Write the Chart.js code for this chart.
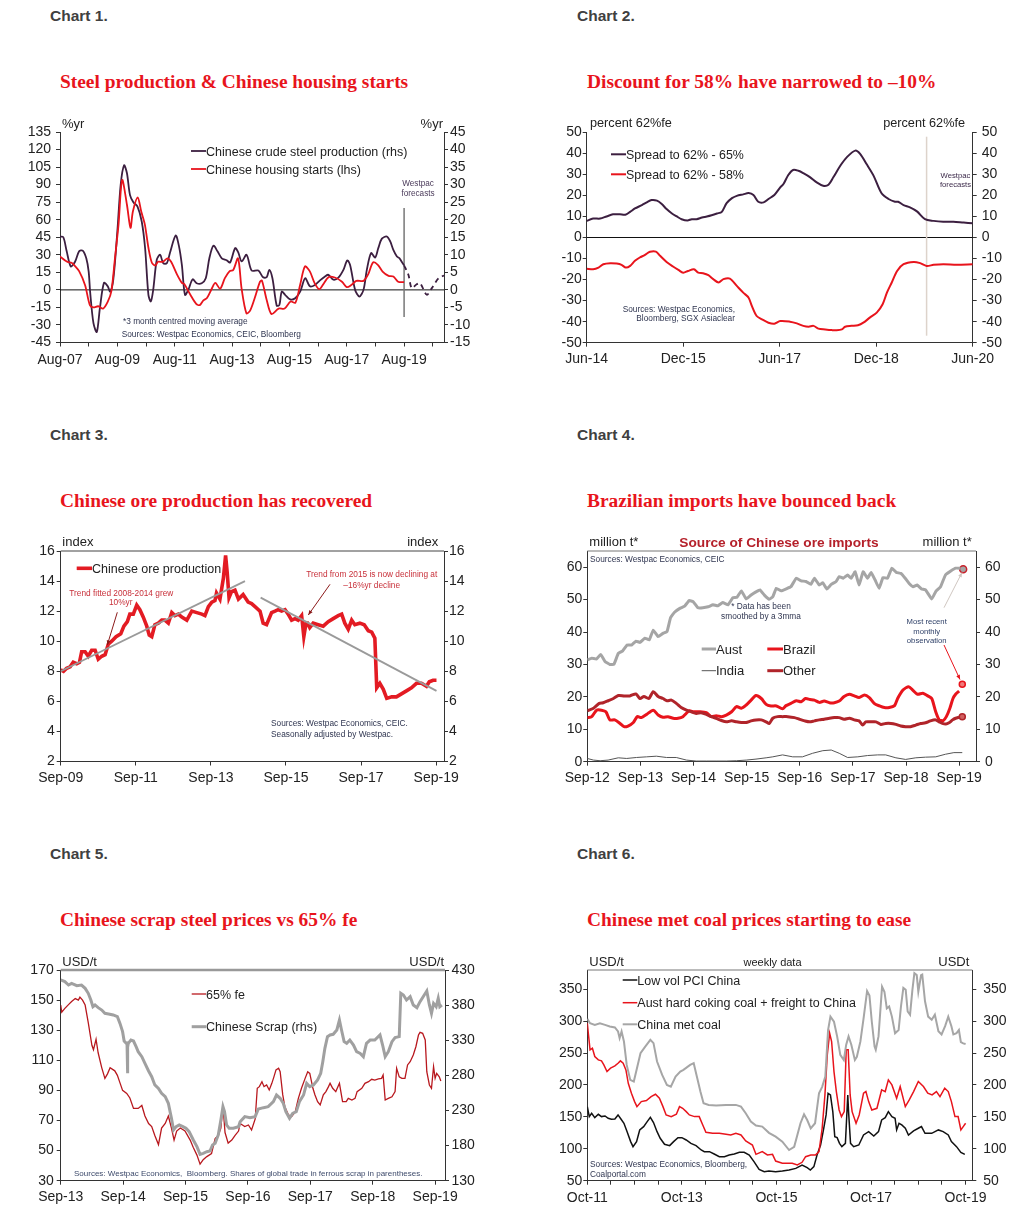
<!DOCTYPE html>
<html>
<head>
<meta charset="utf-8">
<script src="https://cdn.jsdelivr.net/npm/chart.js@4.4.1/dist/chart.umd.min.js"></script>
<style>
  body { margin: 0; background: #fff; width: 1032px; height: 1210px; position: relative; overflow: hidden; font-family: "Liberation Sans", Arial, sans-serif; }
  .hd { position: absolute; font-weight: bold; font-size: 15.5px; line-height: 1; color: #404040; white-space: nowrap; }
  .tt { position: absolute; font-family: "Liberation Serif", "Times New Roman", serif; font-weight: bold; font-size: 19.4px; line-height: 1; color: #e8141c; white-space: nowrap; }
</style>
</head>
<body>
<div class="hd" style="left:50px;top:8px">Chart 1.</div>
<div class="hd" style="left:577px;top:8px">Chart 2.</div>
<div class="hd" style="left:50px;top:427px">Chart 3.</div>
<div class="hd" style="left:577px;top:427px">Chart 4.</div>
<div class="hd" style="left:50px;top:846px">Chart 5.</div>
<div class="hd" style="left:577px;top:846px">Chart 6.</div>
<div class="tt" style="left:60px;top:72px">Steel production &amp; Chinese housing starts</div>
<div class="tt" style="left:587px;top:72px">Discount for 58% have narrowed to –10%</div>
<div class="tt" style="left:60px;top:491px">Chinese ore production has recovered</div>
<div class="tt" style="left:587px;top:491px">Brazilian imports have bounced back</div>
<div class="tt" style="left:60px;top:910px">Chinese scrap steel prices vs 65% fe</div>
<div class="tt" style="left:587px;top:910px">Chinese met coal prices starting to ease</div>

<script>
// ---- data: [months since first x label, value] ----

// Chart 1 (months from Aug-07)
const c1XTicks = [0, 12, 24, 36, 48, 60, 72, 84, 96, 108, 120, 132, 144, 156];
const c1XLabels = ['Aug-07', '', 'Aug-09', '', 'Aug-11', '', 'Aug-13', '', 'Aug-15', '', 'Aug-17', '', 'Aug-19', ''];
const c1LeftTicks = [135, 120, 105, 90, 75, 60, 45, 30, 15, 0, -15, -30, -45];
const c1RightTicks = [45, 40, 35, 30, 25, 20, 15, 10, 5, 0, -5, -10, -15];
const c1Housing = [[0,28.6],[3,24],[5,23],[6,21],[8,16],[10.5,4],[12.5,-13],[14,-15],[16,-14],[18,-16],[20,-10],[21.5,-1],[23,27],[24.5,56],[26,94],[28,73],[29.5,53],[30.5,67],[32.5,79],[34,67],[35.5,56],[37,36],[38.5,23],[40,21],[41,24],[43,24],[45,27],[46.5,24],[49,13],[51,6],[52,5],[54.5,-4],[57,-12],[58.5,-13],[60,-9],[61.5,-7],[63.5,1],[65,6],[67,1],[69,10],[71,16],[72.5,17],[74.5,27],[76,1],[78,-20],[79.5,-18],[81.5,-7],[83.7,7],[84.5,8],[86.5,-8.6],[88.5,-20.6],[91.5,-16],[94,-16],[96.5,-10],[98.5,-11],[100.5,4.3],[102.5,20],[104.5,16],[106.5,6],[108.5,0.6],[110,4.3],[112.5,11],[115,10.6],[118,7],[120,2.3],[122,4.3],[124,7.7],[127,7.7],[129,13.4],[131,23.4],[133,21.4],[135,15.7],[137.5,12],[139.5,11.4],[141.5,7],[144,6.6]];
const c1Steel = [[0,15.2],[1.4,15],[2.8,11],[4.5,6.7],[6.3,8],[8,11],[9.5,11.2],[11,9],[12,5.2],[12.6,-0.5],[14,-9.5],[15.4,-12],[16.7,-5.2],[18.4,2],[20,1],[21,-0.5],[22.3,2.9],[24,16.7],[25.4,30],[26.8,35.5],[28,33.3],[29.3,27],[30.7,25],[32.4,23.8],[34.2,19.5],[35.6,12],[37,-1.4],[38,-3.3],[39,0],[40.5,8.6],[41.9,10],[43.2,7.6],[44.7,7.6],[46,10.5],[48.4,15.5],[49.8,12.4],[51,7.1],[52.3,-1.4],[53.7,0],[55.5,3],[57.2,1.9],[59.3,1.9],[61,3.3],[62.5,9],[64.2,12.6],[65.9,11],[67.7,9],[69.8,8.4],[71.2,7.8],[73.3,11.9],[74.6,10.7],[76,8.1],[78.1,10],[80.2,5.5],[83,5.5],[85,3.6],[86.5,3.6],[87.6,5.7],[88.9,3.3],[90.7,-4.5],[91.8,-4.3],[92.8,-0.5],[94.2,-1.4],[96.3,-2.7],[98.4,-2.4],[100.5,-0.5],[102.6,3.3],[104.6,1],[106.7,1.4],[108.8,2.7],[110.9,3.8],[112.3,4.3],[114.4,2.9],[116.5,3.5],[118.6,5.7],[120.2,8.4],[121.4,7.1],[123.5,0],[125.3,-1.9],[127,0],[128.4,5.7],[130.2,10.5],[131.9,9.2],[133.2,11.9],[134.7,14.6],[136.8,15.2],[138.2,13.8],[139.5,11.4],[141,9.5],[142.1,9],[143,8],[144,7]];
const c1SteelForecast = [[144,7],[145.8,4.3],[147.2,0.5],[149.3,1.6],[150.7,1.9],[153.5,-1.4],[155.6,0.5],[158.4,3.3],[160.7,4.1]];
const c1ForecastStart = 144;

// Chart 2 (months from Jun-14)
const c2XTicks = [0, 18, 36, 54, 72];
const c2XLabels = ['Jun-14', 'Dec-15', 'Jun-17', 'Dec-18', 'Jun-20'];
const c2YTicks = [50, 40, 30, 20, 10, 0, -10, -20, -30, -40, -50];
const c2Spread65 = [[0,7.9],[1.2,9],[2.5,9],[3.7,10],[4.9,11],[6.2,11],[7.2,10.8],[8.1,12.2],[9,13.8],[10.3,15.4],[11.2,16.7],[12.1,17.8],[13.1,17.5],[14,15.9],[14.9,13.5],[15.9,11.4],[16.8,10],[17.7,8.7],[18.8,8.1],[19.6,8.7],[20.5,8.7],[21.5,9.5],[22.4,10],[23.3,10.6],[24.3,11.4],[25.2,12.2],[26.1,16.3],[27.1,18.7],[28,19.8],[29.2,20.5],[30.2,21.1],[31.1,20.2],[32,17],[33,16.7],[33.9,18.3],[35,20.2],[36.1,23.8],[36.7,25.4],[37.6,29.7],[38.5,32.1],[39.5,31.7],[40.4,30.6],[41.7,28.6],[42.9,26.2],[44.1,24.6],[45.1,25.1],[46,28.6],[47.3,34.1],[48.5,38.1],[50.1,41.3],[51,39.7],[52.2,34.9],[53.5,29.4],[55,21],[56.3,18.3],[57.5,17],[58.1,17],[59.1,15.4],[60.3,14.3],[61.6,12.4],[63.1,8.7],[64.7,7.9],[66.5,7.5],[68.4,7.5],[70.3,7.1],[72,6.8]];
const c2Spread58 = [[0,-14.8],[1.2,-15.1],[2.2,-14.3],[3.1,-12.7],[4.4,-12.2],[5.6,-12.4],[6.5,-13],[7.3,-14.3],[8.1,-13.5],[9,-11.1],[9.9,-9.5],[10.8,-8.4],[11.8,-6.8],[12.9,-6.7],[13.7,-8.7],[14.9,-11.6],[16.1,-13.8],[17.1,-15.4],[18,-16.7],[18.9,-15.9],[20,-15.1],[20.8,-16.7],[21.7,-17],[22.7,-17.9],[23.6,-19.8],[24.6,-21.4],[25.5,-19.8],[26.7,-19.5],[28,-23],[29.2,-26.2],[30.2,-28.6],[30.8,-32.5],[31.7,-37.3],[32.7,-38.9],[33.9,-40.5],[35,-41],[36.1,-39.7],[37.9,-40],[39.2,-40.8],[40.4,-42],[41.4,-42.4],[42.3,-42],[43.2,-43.3],[44.5,-43.7],[45.7,-44],[46.6,-44.1],[47.6,-43.7],[48.2,-42.4],[49.4,-42],[50.6,-41.7],[51.6,-40.5],[52.8,-38.1],[54.1,-35.7],[55.2,-31.7],[56,-26.2],[56.9,-21.4],[57.9,-15.9],[59.1,-12.7],[61,-11.6],[62.2,-12.2],[63.4,-13.5],[64.7,-13],[66.5,-12.7],[69,-12.9],[72,-12.7]];
const c2ForecastStart = 63.4;

// Chart 3 (months from Sep-09)
const c3XTicks = [0, 24, 48, 72, 96, 120];
const c3XLabels = ['Sep-09', 'Sep-11', 'Sep-13', 'Sep-15', 'Sep-17', 'Sep-19'];
const c3YTicks = [16, 14, 12, 10, 8, 6, 4, 2];
const c3Ore = [[0,8.1],[0.9,8],[1.9,8.2],[3,8.3],[4,8.6],[5.1,8.5],[6,8.6],[6.7,9.3],[7.8,9.3],[8.8,9],[9.9,9.4],[11,9.4],[12,8.8],[13.1,9],[14.2,9.1],[15.2,9.8],[16.3,10],[17.7,10.3],[19.2,10.5],[20.2,11],[21.3,11.3],[22.1,11.8],[23.2,11.8],[24.3,12.4],[25.3,12.1],[26.4,11.6],[27.5,11],[28.3,10.4],[29.1,10.3],[30.1,11.1],[31.2,11.2],[32.3,11.4],[33.3,11.4],[34.4,11.2],[35.5,11.9],[36.5,11.7],[37.6,11.8],[38.7,11.6],[40.3,11.4],[41.9,12],[43.5,11.9],[45.1,11.8],[46.1,11.7],[47.2,12.3],[48.3,12.6],[49.3,12.7],[49.8,13.2],[50.9,12.8],[52,14.2],[52.7,15.7],[53.2,14.6],[53.8,12.9],[54.6,13.3],[55.7,13.4],[56.8,12.8],[58.3,13.1],[59.9,12.6],[61,12.5],[62.1,12.3],[63.7,12],[64.7,11.2],[65.8,11.1],[67.4,11.9],[68.5,12],[69.5,12.1],[70.6,12],[71.7,12.1],[72.7,11.8],[73.8,11.4],[74.9,11.5],[75.9,11.4],[77,11.7],[77.7,10.3],[78.4,11.2],[78.9,11.2],[79.6,10.9],[80.7,11.2],[82.3,11.1],[83.9,11],[85.5,11.3],[87.1,11.5],[88.7,11.7],[89.8,11.8],[90.8,11.2],[91.9,10.8],[93,11.4],[94,11.1],[95.6,11.2],[97,11.1],[98.3,10.7],[99.4,10.6],[100.4,10.2],[101,6.9],[102,7.2],[103.1,6.8],[104.2,6.2],[105.8,6.3],[107.3,6.3],[108.9,6.5],[110.5,6.7],[112.1,6.9],[113.7,7.2],[115.3,7.2],[116.9,7],[117.8,7.3],[119,7.4],[120.1,7.4]];
const c3TrendUp = [[0,8.0],[58.9,14.0]];
const c3TrendDown = [[63.9,12.9],[120.1,6.7]];

// Chart 4 (months from Sep-12)
const c4XTicks = [0, 12, 24, 36, 48, 60, 72, 84];
const c4XLabels = ['Sep-12', 'Sep-13', 'Sep-14', 'Sep-15', 'Sep-16', 'Sep-17', 'Sep-18', 'Sep-19'];
const c4YTicks = [60, 50, 40, 30, 20, 10, 0];
const c4Aust = [[0,31.4],[1,31.9],[2.1,31.7],[3,33.1],[4,30.9],[5.1,30],[6,30],[7,33.4],[8,34.2],[9,36],[10,36],[11,37.2],[11.9,36.8],[13,38.1],[14,37.6],[14.9,40.6],[16,38.6],[17.1,39.6],[18,40.1],[18.8,44.4],[19.7,46.1],[20.9,47.3],[22,48],[23,49.7],[23.9,49.4],[25,47.5],[26.1,47.5],[27.3,47.8],[28.4,48.4],[29.5,48.1],[30.6,49.1],[31.8,48.4],[32.9,50.6],[33.8,50.7],[34.8,52.7],[35.9,50.2],[37,51.4],[38,52.3],[39,53],[40,51.4],[41.1,50.1],[41.9,50.9],[42.7,53.5],[43.8,52.7],[44.9,53.3],[46,54],[47.2,56.6],[48.3,55.8],[49.4,55.6],[50.5,54.7],[51.3,56.6],[52.4,54.5],[53.2,55.2],[54.1,53.3],[55.1,54.7],[56.2,55.6],[56.9,57.1],[57.8,56.6],[58.8,57.6],[59.6,56.6],[60.5,58.6],[61.4,54.5],[62.3,58.6],[63.3,56.6],[64.1,58.4],[65,56.1],[65.9,53.5],[66.8,56.8],[67.8,56.6],[68.8,59.7],[69.8,58.4],[70.8,58.1],[71.8,56.6],[72.7,55],[73.6,54],[74.5,54.5],[75.5,53.3],[76.4,53],[77.8,50.2],[78.7,52.5],[79.8,54],[80.9,57.6],[82.1,58.8],[83.2,59.7],[84.3,59.7]];
const c4Brazil = [[0,13.6],[1,13.9],[2.1,15.9],[3.2,15.9],[4.2,15.4],[5.1,12.9],[6.2,12.9],[7.4,11.8],[8.3,10.8],[9.2,11],[10.4,12.1],[11.3,13.9],[12.2,13.6],[13.4,14.6],[14.9,15.9],[16,14.4],[17.1,13.7],[18.2,13.9],[19.4,13.4],[20.5,13.4],[21.6,13.9],[23,15.7],[24,15.4],[25.4,15.4],[26.9,15.1],[28,13.9],[29.1,14.2],[30.3,13.9],[31.4,14.4],[32.6,15.4],[33.7,17],[34.8,16.5],[35.9,17.5],[37,19],[38.1,20.4],[39.3,19.5],[40.4,17.7],[41.5,17.2],[42.7,17.2],[44.1,16.3],[44.9,17.3],[46,18],[47.2,18.8],[48.3,18.5],[49.3,19.5],[50.3,19.2],[51.3,19],[52.4,18.3],[53.5,18.7],[54.7,18.2],[55.8,18.2],[56.9,18.7],[58,20.1],[59.2,20.8],[60.3,20.3],[61.4,19.8],[62.6,20.6],[63.7,19.8],[64.8,18],[66,17.2],[67.1,16.7],[68.2,16.7],[69.4,17.3],[70.1,19.5],[71.3,22.1],[72.6,23.1],[73.5,22.1],[74.6,20.8],[75.8,21.1],[76.9,20.3],[77.8,19.5],[78.7,15.4],[79.5,12.9],[80.4,12.7],[81.1,13.9],[81.9,16.5],[82.6,19.5],[83.2,20.8],[84,21.8]];
const c4Other = [[0,15.7],[1.4,16.5],[2.7,18],[3.6,18.2],[4.7,18.8],[5.9,19.5],[7,20.4],[8.3,20.3],[9.6,20.3],[11,20.9],[11.9,19.5],[12.8,20.1],[13.9,19.5],[14.9,21.6],[16,20.1],[17.1,19.5],[18,18.8],[19,19],[20.1,18],[21.2,16.7],[22.4,15.9],[23.5,15.4],[24.6,14.9],[25.7,15.1],[26.9,14.6],[28,13.9],[29.1,13.4],[30.3,12.7],[31.4,12.3],[32.6,12.6],[33.7,12.3],[34.8,12.1],[35.9,12.1],[37,12.6],[38.1,12.9],[39.3,12.9],[40.4,12.3],[41.1,11.8],[41.9,13.4],[43,13.9],[44.1,13.9],[45.3,13.9],[46.8,13.6],[47.9,13.1],[49.1,12.6],[50.2,12.3],[51.3,12.6],[52.4,12.9],[53.5,13.1],[54.7,13.4],[55.8,13.6],[56.9,13.6],[58,13.1],[59.2,13.4],[60.3,12.9],[61.4,12.6],[62.2,11.3],[62.9,12.3],[64.1,12.3],[65.2,12.3],[66.3,11.5],[67.4,11.8],[68.6,11.8],[69.7,11.5],[70.8,11],[71.9,10.8],[73,10.8],[74.2,11.3],[75.3,11.8],[76.4,12],[77.5,12.6],[78.7,12.9],[79.5,12.3],[80.2,11.8],[81,11.6],[81.7,12],[82.5,12.9],[83.2,13.4],[84,13.7]];
const c4India = [[0,1],[1.4,0.5],[2.9,0.3],[4.7,0.5],[7,1.2],[8.9,1],[11.1,1.3],[13.4,1.5],[15.6,1.7],[17.9,1.3],[20.1,1.3],[22.4,0.5],[24.6,0.2],[26.9,0.2],[29.1,0.2],[31.4,0.2],[33.7,0.3],[35.9,0.5],[38.1,0.8],[40.4,1.2],[41.9,1.5],[44.1,2.1],[46.4,1.5],[48.6,1.5],[50.9,2.6],[53.2,3.4],[55.1,3.6],[56.9,2.6],[58.8,1.3],[61.1,1.5],[63.3,1.9],[65.6,2.1],[67.4,2.1],[69.7,1.2],[71.9,0.7],[74.2,1.2],[76.4,1.4],[78.7,1.5],[80.9,2.3],[82.8,2.8],[84.7,2.8]];
const c4LatestAust = [[84.9,59.4]];
const c4LatestBrazil = [[84.7,23.9]];
const c4LatestOther = [[84.7,13.9]];

// Chart 5 (months from Sep-13)
const c5XTicks = [0, 12, 24, 36, 48, 60, 72];
const c5XLabels = ['Sep-13', 'Sep-14', 'Sep-15', 'Sep-16', 'Sep-17', 'Sep-18', 'Sep-19'];
const c5LeftTicks = [170, 150, 130, 110, 90, 70, 50, 30];
const c5RightTicks = [430, 380, 330, 280, 230, 180, 130];
const c5Fe65 = [[0,146.7],[0.2,142],[0.8,144.5],[1.5,147],[2.1,149],[2.8,151],[3.4,150],[3.7,152],[4.2,150],[4.7,146.7],[5.3,135],[6,120],[6.3,117],[6.8,124],[7.2,115],[7.9,105],[8.5,98],[9,101],[9.5,105],[10.4,103],[10.9,100],[11.4,95],[11.9,90],[12.7,88],[13.3,85],[14,78],[14.9,78],[15.6,80],[16.2,73],[16.9,68],[17.5,66],[18.1,60],[18.8,54],[19.4,65],[20.1,68],[20.7,73],[21.3,65],[21.8,57],[22.3,63],[23,65],[23.9,63],[24.9,57],[25.5,52],[26.2,47],[26.8,41],[27.4,44],[28.1,46],[29,48],[29.7,58],[30.3,60],[30.8,65],[31.2,80],[31.6,62],[32.2,55],[32.9,57],[33.5,60],[34.2,63],[34.5,68],[35.4,66],[36.1,67],[36.7,63.7],[37.4,71],[37.8,91.4],[38.2,92.5],[38.7,95.8],[39.1,92.5],[39.6,93.6],[40.1,90.3],[40.6,94.7],[41,99],[41.4,103.6],[41.9,104.7],[42.2,102.4],[42.7,87],[43.1,79.2],[43.8,73.7],[44.4,72.5],[45.1,75.9],[45.7,84.7],[46.3,91.4],[47,98],[47.5,102.4],[47.9,101.3],[48.5,91.4],[48.9,87],[49.4,82.5],[49.9,80.3],[50.5,87],[51,89.2],[51.5,92.5],[51.8,94.7],[52.3,91.4],[52.9,89.2],[53.6,94.7],[54.2,82.5],[54.9,82.5],[55.3,84.7],[56,83.6],[56.6,84.7],[57,89.2],[57.9,91.4],[58.5,94.7],[59.2,95.8],[59.8,97.4],[60.4,96.9],[61.1,97.6],[61.7,98],[62,100.2],[62.4,83.6],[63,84.7],[63.7,85.8],[64.3,89.2],[64.6,104.7],[65.1,99],[65.6,98],[66.2,98],[66.7,106.9],[67.2,109.1],[67.8,113.5],[68.3,119],[68.8,126.8],[69.1,128.6],[69.6,127.9],[70.1,123.5],[70.4,102.4],[70.9,93.6],[71.3,91.4],[71.7,105.8],[72,98],[72.3,101.3],[72.8,99],[73.1,96.2]];
const c5Scrap = [[0,415.8],[0.8,413.4],[1.5,408.6],[2.1,411],[3.1,407.7],[4,408.6],[4.7,403.9],[5.3,396.8],[5.8,387.3],[6.2,377.8],[6.6,380.2],[7.2,376.4],[7.9,373],[8.5,368.3],[9.2,367.4],[10.1,366],[10.9,363.6],[11.4,354],[11.9,342.2],[12.2,328.9],[12.6,325.6],[12.75,326],[12.82,283],[12.92,320],[13,325.6],[13.5,330.3],[14,328.9],[14.5,320.8],[14.9,313.7],[15.6,306.6],[16.2,297.1],[16.9,286.2],[17.5,278.1],[18.1,266.3],[18.8,261.5],[19.4,254.4],[20.1,249.7],[20.7,240.2],[21.3,218.8],[21.7,202.2],[22.2,206.9],[22.8,209.3],[23.5,206.9],[24.1,204.6],[24.7,199.8],[25.5,187.9],[26.2,178.5],[26.8,167.5],[27.4,169],[28.1,171.3],[28.7,172.3],[29.2,180.8],[29.7,183.2],[30.3,195.1],[30.8,216.4],[31.2,235.4],[31.5,228.3],[31.9,209.3],[32.4,204.6],[33.2,204.6],[34.2,206.9],[34.5,214],[35.4,221.2],[36.4,219.7],[37.4,221.2],[38,232.1],[39,234],[39.9,235.4],[40.9,242.5],[41.5,252],[42.2,247.3],[42.8,240.2],[43.3,228.3],[44,218.8],[44.6,225.9],[45.3,228.3],[45.9,242.5],[46.7,252],[47.3,268.6],[47.9,263.9],[48.6,266.3],[49.4,273.4],[50,282.9],[50.4,299.5],[50.8,318.5],[51.3,335.1],[51.8,337.5],[52.4,338.4],[53.1,344.6],[53.6,358.8],[54,344.6],[54.5,328],[55,325.6],[55.6,330.3],[56.3,323.2],[56.9,313.7],[57.6,311.3],[58.2,306.6],[58.8,325.6],[59.5,330.3],[60.4,330.3],[61.4,337.5],[61.9,323.2],[62.4,306.6],[63,313.7],[63.7,328],[64.3,333.7],[65.1,335.1],[65.4,396.8],[65.9,394.4],[66.5,387.3],[67.2,392],[67.8,380.2],[68.5,376.4],[69.1,384.9],[69.7,392],[70.4,400.1],[70.9,380.2],[71.3,368.3],[71.7,382.5],[72.2,377.8],[72.6,389.7],[72.9,377.8],[73.3,380.2]];

// Chart 6 (months from Oct-11, weekly data)
const c6XTicks = [0, 6, 12, 18, 24, 30, 36, 42, 48, 54, 60, 66, 72, 78, 84, 90, 96];
const c6XLabels = ['Oct-11', '', '', '', 'Oct-13', '', '', '', 'Oct-15', '', '', '', 'Oct-17', '', '', '', 'Oct-19'];
const c6YTicks = [350, 300, 250, 200, 150, 100, 50];
const c6PCI = [[0,166],[0.5,150.4],[1.1,155.6],[1.9,148.8],[2.8,154],[3.6,150.4],[4.5,151.4],[5.3,147.8],[6.1,146.2],[7,146.7],[7.8,153],[8.4,147.8],[9.3,139.9],[10.1,126.8],[11,111.2],[11.6,103.3],[12.5,111.2],[13.3,129.5],[14.3,134.7],[15.2,142.5],[16,149.3],[16.8,141],[17.7,126.8],[18.5,116.4],[19.6,107],[20.9,104.9],[21.9,111.2],[23,117.4],[24,117.4],[25.1,113.8],[26.3,108.5],[27.6,104.9],[28.9,98.1],[29.7,95.5],[31,95.5],[32.2,91.8],[33.5,87.6],[34.8,87.6],[36,90.3],[37.3,91.8],[38.6,94.4],[39.8,94.4],[41.1,90.3],[42.3,79.8],[43.6,67.8],[44.9,64.1],[46.1,65.2],[47.8,64.1],[49.5,65.2],[51.2,66.7],[52.9,69.3],[54.5,74.6],[55.8,70.4],[56.6,66.7],[57.5,72],[58.3,90.3],[59.2,106],[60,132.1],[60.6,153],[61.1,186.9],[61.7,184.3],[62.3,158.2],[62.8,119],[63.4,117.4],[64,108.5],[64.6,103.3],[65.5,108.5],[66.1,184.3],[66.3,158.2],[66.8,108.5],[67.6,103.3],[68.9,105.9],[70.1,121.6],[71.4,126.8],[72.7,120],[73.9,126.8],[74.7,145.1],[75.6,148.8],[76.4,158.2],[77.3,150.4],[78.1,147.8],[78.5,129.5],[79.1,139.9],[79.8,137.3],[80.7,132.1],[81.5,121.6],[82.8,127.9],[84,132.1],[84.8,134.7],[85.7,124.2],[87.4,124.2],[89.1,129.5],[90.3,126.8],[91.6,121.6],[92.4,111.2],[93.7,103.3],[94.8,94.4],[95.8,91.3]];
const c6HCC = [[0,296.7],[0.3,278.4],[0.7,254.9],[1.3,257.5],[1.9,244.5],[2.8,239.2],[3.6,237.7],[4.2,231.4],[5,220.9],[5.9,226.2],[7,229.8],[7.8,234],[8.4,237.7],[9.1,234],[9.8,223.6],[10.4,202.6],[11.2,187],[12,173.9],[12.6,166],[13.7,173.9],[15,175.5],[16.2,181.7],[17.3,185.4],[18.3,179.1],[19.2,166],[20,153],[21.3,150.4],[22.6,154],[23.4,166],[24.2,163.4],[25.1,158.2],[25.9,153],[27.2,150.4],[28.4,150.4],[29.3,137.3],[30.1,125.8],[31.8,124.2],[33.5,124.2],[35.2,122.7],[36.4,121.6],[37.7,124.2],[39,121.6],[40.2,112.2],[41.9,105.9],[42.8,91.3],[44.4,95.5],[45.7,90.3],[47,91.3],[47.8,80.8],[49.5,77.2],[52,77.2],[53.3,74.6],[54.5,78.8],[55.4,87.6],[56.7,90.3],[57.9,90.3],[58.8,95.5],[59.6,132.1],[60.3,184.3],[60.9,247],[61.5,281],[62,268],[62.6,220.9],[63.2,189.6],[63.9,160.8],[64.5,150.4],[65.2,158.2],[65.7,254.9],[66.2,254.9],[66.7,184.3],[67.2,158.2],[68.2,139.9],[69,153],[70.1,187],[70.7,189.6],[71.4,173.9],[72.2,160.8],[73.5,163.4],[74.7,192.2],[75.6,189.6],[76.4,207.9],[77.3,200],[78.5,179.1],[79.4,197.4],[80.7,166],[81.7,176.5],[82.8,189.6],[84,205.3],[85.3,197.4],[86.4,187],[87.5,184.3],[88.6,189.6],[89.5,181.7],[90.7,194.8],[91.6,189.6],[92.4,173.9],[93.3,150.4],[94.1,150.4],[94.8,129.5],[95.4,134.7],[96,139.9]];
const c6MetCoal = [[0,303.5],[0.7,296.7],[1.9,294.1],[3.2,296.7],[4.5,294.1],[5.7,291.5],[7,290],[7.8,283.7],[8.2,273.2],[8.7,283.7],[9.3,268],[10,231.4],[10.9,207.9],[11.8,205.3],[12.6,226.2],[13.5,249.7],[14.7,260.1],[16,270.6],[16.8,265.4],[17.7,236.6],[19,215.7],[20.2,200],[21.2,197.4],[22.4,213.1],[23.6,220.9],[24.4,223.6],[26.1,231.4],[27,234],[27.8,213.1],[28.7,189.6],[29.5,171.3],[30.8,168.7],[32.7,167.6],[35.2,168.7],[37.7,168.7],[39,166],[40.2,155.6],[41.5,142.5],[42.8,136.3],[44.4,134.7],[46.1,125],[47.8,119],[49.5,111.2],[51.2,98],[52.5,103],[54.1,140],[55,154],[55.8,145],[56.7,132],[57.8,140],[58.8,187],[59.6,197],[60.4,213],[61.1,286],[61.7,307],[62.6,299],[63.4,276],[64.2,247],[65.1,239],[65.7,263],[66.3,276],[67,263],[67.9,239],[68.4,244],[69.3,268],[70.1,304],[71,347],[71.6,340],[72.2,299],[72.9,260],[73.2,255],[73.9,276],[74.8,354],[75.4,346],[76,320],[76.6,323],[77.3,307],[78.1,281],[79,286],[79.6,323],[80.2,352],[80.8,349],[81.3,315],[81.9,310],[82.5,349],[83,375],[83.6,372],[84,346],[84.7,372],[85,373],[85.7,331],[86.5,307],[87.4,302],[88.2,310],[89.1,284],[89.9,279],[90.8,292],[91.6,307],[92.4,292],[92.9,279],[93.7,281],[94.3,286],[94.8,267],[95.4,265],[96,264]];

// ---- drawing ----
const FONT = "'Liberation Sans', Arial, sans-serif";
Chart.defaults.font.family = FONT;
Chart.defaults.color = '#222';

const xy = arr => arr.map(p => ({ x: p[0], y: p[1] }));

function series(arr, color, width, axis, extra) {
  return Object.assign({
    data: xy(arr), borderColor: color, backgroundColor: color, borderWidth: width,
    pointRadius: 0, tension: 0, fill: false, yAxisID: axis || 'y'
  }, extra || {});
}

// small texts, legends, arrows and reference lines, placed in page pixels
function noteLayer(box, items) {
  function draw(chart, under) {
    const ctx = chart.ctx, ca = chart.chartArea;
    ctx.save();
    for (const it of items) {
      if (!!it.under !== under) continue;
      if (it.k === 'zero') {
        const y = chart.scales.y.getPixelForValue(0);
        ctx.strokeStyle = '#111'; ctx.lineWidth = 1;
        ctx.beginPath(); ctx.moveTo(ca.left, y); ctx.lineTo(ca.right, y); ctx.stroke();
      } else if (it.k === 'top') {
        ctx.strokeStyle = it.c; ctx.lineWidth = it.w;
        ctx.beginPath(); ctx.moveTo(ca.left, ca.top); ctx.lineTo(ca.right, ca.top); ctx.stroke();
      } else if (it.k === 'v') {
        const x = chart.scales.x.getPixelForValue(it.v);
        ctx.strokeStyle = it.c; ctx.lineWidth = it.w;
        ctx.beginPath(); ctx.moveTo(x, it.y1 - box.t); ctx.lineTo(x, it.y2 - box.t); ctx.stroke();
      } else if (it.k === 'l') {
        const x1 = it.x1 - box.l, y1 = it.y1 - box.t, x2 = it.x2 - box.l, y2 = it.y2 - box.t;
        ctx.strokeStyle = it.c; ctx.lineWidth = it.w || 1;
        ctx.beginPath(); ctx.moveTo(x1, y1); ctx.lineTo(x2, y2); ctx.stroke();
        if (it.head) {
          const a = Math.atan2(y2 - y1, x2 - x1), s = 5;
          ctx.fillStyle = it.c;
          ctx.beginPath();
          ctx.moveTo(x2, y2);
          ctx.lineTo(x2 - s * Math.cos(a - 0.4), y2 - s * Math.sin(a - 0.4));
          ctx.lineTo(x2 - s * Math.cos(a + 0.4), y2 - s * Math.sin(a + 0.4));
          ctx.closePath(); ctx.fill();
        }
      } else if (it.k === 't') {
        ctx.font = (it.b ? 'bold ' : '') + it.f + 'px ' + FONT;
        ctx.fillStyle = it.c || '#222';
        ctx.textAlign = it.a || 'left';
        ctx.textBaseline = 'middle';
        ctx.fillText(it.s, it.x - box.l, it.y - box.t + 1.2);
      }
    }
    ctx.restore();
  }
  return {
    id: 'notes',
    beforeDatasetsDraw(chart) { draw(chart, true); },
    afterDatasetsDraw(chart) { draw(chart, false); }
  };
}

function axis(pos, min, max, vals, pad, fit, extraTicks) {
  return {
    type: 'linear', position: pos, min: min, max: max,
    grid: { display: true, drawOnChartArea: false, drawTicks: true, tickLength: 4, color: '#333', lineWidth: 1 },
    border: { display: true, color: '#333', width: 1 },
    afterBuildTicks: s => { s.ticks = vals.map(v => ({ value: v })); },
    afterFit: fit,
    ticks: Object.assign({ padding: pad, font: { size: 14 }, color: '#222', autoSkip: false, maxRotation: 0, callback: v => String(v) }, extraTicks || {})
  };
}

function build(box, plot, sc, datasets, notes) {
  const cv = document.createElement('canvas');
  cv.width = box.w; cv.height = box.h;
  cv.style.cssText = 'position:absolute;left:' + box.l + 'px;top:' + box.t + 'px;width:' + box.w + 'px;height:' + box.h + 'px';
  document.body.appendChild(cv);
  new Chart(cv, {
    type: 'line',
    data: { datasets: datasets },
    options: {
      responsive: false, animation: false,
      layout: { padding: { top: plot.t - box.t, left: 0, right: 0, bottom: 0 } },
      plugins: { legend: { display: false }, tooltip: { enabled: false } },
      scales: {
        x: axis('bottom', sc.x[0], sc.x[1], sc.xTicks, sc.xPad, s => { s.height = box.t + box.h - plot.b; },
                { callback: (v, i) => sc.xLabels[i] }),
        y: axis('left', sc.y[0], sc.y[1], sc.yTicks, sc.yPad, s => { s.width = plot.l - box.l; }),
        y2: axis('right', sc.y2[0], sc.y2[1], sc.y2Ticks, sc.y2Pad, s => { s.width = box.l + box.w - plot.r; })
      }
    },
    plugins: [noteLayer(box, notes)]
  });
}

const NOTE = '#2f3550';
const RED = '#e8141c';
const PURPLE = '#3c1f40';

// Chart 1
build({ l: 0, t: 110, w: 516, h: 270 }, { l: 60, t: 132, r: 444, b: 342.5 },
  { x: [0, 160.7], xTicks: c1XTicks, xLabels: c1XLabels, xPad: 5.5,
    y: [-45, 135], yTicks: c1LeftTicks, yPad: 5, y2: [-15, 45], y2Ticks: c1RightTicks, y2Pad: 2 },
  [
    series(c1Housing, RED, 1.8, 'y', { tension: 0.3 }),
    series(c1Steel, PURPLE, 1.8, 'y2', { tension: 0.3 }),
    series(c1SteelForecast, PURPLE, 1.8, 'y2', { tension: 0.3, borderDash: [5, 4] })
  ],
  [
    { k: 'zero', under: true },
    { k: 'v', v: c1ForecastStart, y1: 208, y2: 317, c: '#777', w: 1.5, under: true },
    { k: 't', s: '%yr', x: 62, y: 123, f: 13 },
    { k: 't', s: '%yr', x: 443, y: 123, f: 13, a: 'right' },
    { k: 'l', x1: 191, y1: 151, x2: 206, y2: 151, c: PURPLE, w: 1.8 },
    { k: 't', s: 'Chinese crude steel production (rhs)', x: 206, y: 151, f: 12.5 },
    { k: 'l', x1: 191, y1: 169, x2: 206, y2: 169, c: RED, w: 1.8 },
    { k: 't', s: 'Chinese housing starts (lhs)', x: 206, y: 169, f: 12.5 },
    { k: 't', s: 'Westpac', x: 418, y: 183, f: 8.2, a: 'center', c: '#4a3a5a' },
    { k: 't', s: 'forecasts', x: 418, y: 193, f: 8.2, a: 'center', c: '#4a3a5a' },
    { k: 't', s: '*3 month centred moving average', x: 123, y: 321, f: 8.3, c: NOTE },
    { k: 't', s: 'Sources: Westpac Economics, CEIC, Bloomberg', x: 121.7, y: 334, f: 8.3, c: NOTE }
  ]);

// Chart 2
build({ l: 516, t: 110, w: 516, h: 270 }, { l: 586.7, t: 132.3, r: 972.7, b: 342.7 },
  { x: [0, 72], xTicks: c2XTicks, xLabels: c2XLabels, xPad: 4.5,
    y: [-50, 50], yTicks: c2YTicks, yPad: 1, y2: [-50, 50], y2Ticks: c2YTicks, y2Pad: 5 },
  [
    series(c2Spread65, PURPLE, 2, 'y', { tension: 0.3 }),
    series(c2Spread58, RED, 2, 'y', { tension: 0.3 })
  ],
  [
    { k: 'zero', under: true },
    { k: 'v', v: c2ForecastStart, y1: 136.7, y2: 335.7, c: '#ddd3cb', w: 1.5, under: true },
    { k: 't', s: 'percent 62%fe', x: 590, y: 122, f: 12.7 },
    { k: 't', s: 'percent 62%fe', x: 965, y: 122, f: 12.7, a: 'right' },
    { k: 'l', x1: 611, y1: 154.3, x2: 626, y2: 154.3, c: PURPLE, w: 2 },
    { k: 't', s: 'Spread to 62% - 65%', x: 626, y: 154.3, f: 12.4 },
    { k: 'l', x1: 611, y1: 174.3, x2: 626, y2: 174.3, c: RED, w: 2 },
    { k: 't', s: 'Spread to 62% - 58%', x: 626, y: 174.3, f: 12.4 },
    { k: 't', s: 'Westpac', x: 955.5, y: 174.3, f: 7.7, a: 'center', c: '#3c2a4a' },
    { k: 't', s: 'forecasts', x: 955.5, y: 183.3, f: 7.7, a: 'center', c: '#3c2a4a' },
    { k: 't', s: 'Sources: Westpac Economics,', x: 735, y: 308.3, f: 8.3, a: 'right', c: NOTE },
    { k: 't', s: 'Bloomberg, SGX Asiaclear', x: 735, y: 317.3, f: 8.3, a: 'right', c: NOTE }
  ]);

// Chart 3
build({ l: 0, t: 530, w: 516, h: 270 }, { l: 60.7, t: 551, r: 444, b: 761.5 },
  { x: [0, 122.5], xTicks: c3XTicks, xLabels: c3XLabels, xPad: 4,
    y: [2, 16], yTicks: c3YTicks, yPad: 2, y2: [2, 16], y2Ticks: c3YTicks, y2Pad: 1 },
  [
    series(c3TrendUp, '#9a9a9a', 1.8),
    series(c3TrendDown, '#9a9a9a', 1.8),
    series(c3Ore, '#e31b23', 3.6)
  ],
  [
    { k: 'top', c: '#444', w: 1 },
    { k: 't', s: 'index', x: 62.3, y: 541.7, f: 13 },
    { k: 't', s: 'index', x: 438.3, y: 541.7, f: 13, a: 'right' },
    { k: 'l', x1: 76.7, y1: 568.3, x2: 92, y2: 568.3, c: '#e31b23', w: 3.6 },
    { k: 't', s: 'Chinese ore production', x: 92, y: 568.3, f: 12.5 },
    { k: 't', s: 'Trend fitted 2008-2014 grew', x: 121.3, y: 592.3, f: 8.3, a: 'center', c: '#c8303a' },
    { k: 't', s: '10%yr', x: 120.7, y: 601.7, f: 8.3, a: 'center', c: '#c8303a' },
    { k: 'l', x1: 117.3, y1: 612.3, x2: 107.3, y2: 645, c: '#8b1a1a', w: 1, head: true },
    { k: 't', s: 'Trend from 2015 is now declining at', x: 371.7, y: 574, f: 8.3, a: 'center', c: '#c8303a' },
    { k: 't', s: '–16%yr decline', x: 371.7, y: 584.3, f: 8.3, a: 'center', c: '#c8303a' },
    { k: 'l', x1: 330, y1: 584.3, x2: 308.3, y2: 615, c: '#8b1a1a', w: 1, head: true },
    { k: 't', s: 'Sources: Westpac Economics, CEIC.', x: 271, y: 722.7, f: 8.3, c: NOTE },
    { k: 't', s: 'Seasonally adjusted by Westpac.', x: 271, y: 733.3, f: 8.3, c: NOTE }
  ]);

// Chart 4
const DARKRED = '#b0242a';
build({ l: 516, t: 530, w: 516, h: 270 }, { l: 587.3, t: 551, r: 976, b: 761.7 },
  { x: [0, 87.8], xTicks: c4XTicks, xLabels: c4XLabels, xPad: 4.5,
    y: [0, 65], yTicks: c4YTicks, yPad: 1, y2: [0, 65], y2Ticks: c4YTicks, y2Pad: 5 },
  [
    series(c4India, '#555', 1),
    series(c4Other, DARKRED, 3, 'y', { tension: 0.25 }),
    series(c4Brazil, RED, 3, 'y', { tension: 0.25 }),
    series(c4Aust, '#a5a5a5', 3, 'y', { tension: 0.1 }),
    series(c4LatestAust, '#d33', 1, 'y', { showLine: false, pointRadius: 3.5, pointBackgroundColor: '#a5a5a5', pointBorderColor: '#c8202a', pointBorderWidth: 1.5 }),
    series(c4LatestBrazil, RED, 1, 'y', { showLine: false, pointRadius: 3, pointBackgroundColor: '#f07a7a', pointBorderColor: RED, pointBorderWidth: 1.5 }),
    series(c4LatestOther, DARKRED, 1, 'y', { showLine: false, pointRadius: 3, pointBackgroundColor: '#d06060', pointBorderColor: DARKRED, pointBorderWidth: 1.5 })
  ],
  [
    { k: 'top', c: '#777', w: 1 },
    { k: 't', s: 'million t*', x: 589.3, y: 541.7, f: 13 },
    { k: 't', s: 'million t*', x: 971.7, y: 541.7, f: 13, a: 'right' },
    { k: 't', s: 'Source of Chinese ore imports', x: 679.3, y: 541.7, f: 13.7, b: true, c: '#b5202a' },
    { k: 't', s: 'Sources: Westpac Economics, CEIC', x: 590, y: 559, f: 8.3, c: NOTE },
    { k: 't', s: '* Data has been', x: 761, y: 605.7, f: 8.3, a: 'center', c: NOTE },
    { k: 't', s: 'smoothed by a 3mma', x: 761, y: 616, f: 8.3, a: 'center', c: NOTE },
    { k: 'l', x1: 701.7, y1: 649, x2: 716, y2: 649, c: '#a5a5a5', w: 3 },
    { k: 't', s: 'Aust', x: 716, y: 649, f: 13 },
    { k: 'l', x1: 701.7, y1: 670.7, x2: 716, y2: 670.7, c: '#555', w: 1 },
    { k: 't', s: 'India', x: 716, y: 670.7, f: 13 },
    { k: 'l', x1: 767.3, y1: 649, x2: 783, y2: 649, c: RED, w: 3 },
    { k: 't', s: 'Brazil', x: 783, y: 649, f: 13 },
    { k: 'l', x1: 767.3, y1: 670.7, x2: 783, y2: 670.7, c: DARKRED, w: 3 },
    { k: 't', s: 'Other', x: 783, y: 670.7, f: 13 },
    { k: 't', s: 'Most recent', x: 926.7, y: 621, f: 7.7, a: 'center', c: '#2c3e66' },
    { k: 't', s: 'monthly', x: 926.7, y: 630.7, f: 7.7, a: 'center', c: '#2c3e66' },
    { k: 't', s: 'observation', x: 926.7, y: 639.3, f: 7.7, a: 'center', c: '#2c3e66' },
    { k: 'l', x1: 944, y1: 607.7, x2: 962, y2: 572.5, c: '#cfc6c0', w: 1, head: true },
    { k: 'l', x1: 944, y1: 645, x2: 960, y2: 679.5, c: RED, w: 1, head: true }
  ]);

// Chart 5
build({ l: 0, t: 948, w: 516, h: 262 }, { l: 60.7, t: 970, r: 445, b: 1180.7 },
  { x: [0, 73.9], xTicks: c5XTicks, xLabels: c5XLabels, xPad: 4.5,
    y: [30, 170], yTicks: c5LeftTicks, yPad: 3, y2: [130, 430], y2Ticks: c5RightTicks, y2Pad: 2.5 },
  [
    series(c5Scrap, '#a0a0a0', 3, 'y2'),
    series(c5Fe65, '#b8181e', 1.3, 'y')
  ],
  [
    { k: 'top', c: '#999', w: 2.5 },
    { k: 't', s: 'USD/t', x: 62.3, y: 961.7, f: 13 },
    { k: 't', s: 'USD/t', x: 444, y: 961.7, f: 13, a: 'right' },
    { k: 'l', x1: 191.7, y1: 994, x2: 206, y2: 994, c: '#b8181e', w: 1.3 },
    { k: 't', s: '65% fe', x: 206, y: 994, f: 12.5 },
    { k: 'l', x1: 191.7, y1: 1026.7, x2: 206, y2: 1026.7, c: '#a0a0a0', w: 3 },
    { k: 't', s: 'Chinese Scrap (rhs)', x: 206, y: 1026.7, f: 12.5 },
    { k: 't', s: 'Sources: Westpac Economics,  Bloomberg. Shares of global trade in ferrous scrap in parentheses.', x: 74, y: 1172.3, f: 8, c: '#3d4a6b' }
  ]);

// Chart 6
build({ l: 516, t: 948, w: 516, h: 262 }, { l: 587.3, t: 970, r: 972.3, b: 1180.7 },
  { x: [0, 97.7], xTicks: c6XTicks, xLabels: c6XLabels, xPad: 5.5,
    y: [50, 380], yTicks: c6YTicks, yPad: 1, y2: [50, 380], y2Ticks: c6YTicks, y2Pad: 7 },
  [
    series(c6MetCoal, '#a6a6a6', 2),
    series(c6HCC, RED, 1.5),
    series(c6PCI, '#111', 1.5)
  ],
  [
    { k: 'top', c: '#777', w: 1 },
    { k: 't', s: 'USD/t', x: 589.3, y: 961.7, f: 13 },
    { k: 't', s: 'weekly data', x: 772.5, y: 961.7, f: 11, a: 'center' },
    { k: 't', s: 'USDt', x: 969.3, y: 961.7, f: 13, a: 'right' },
    { k: 'l', x1: 622.7, y1: 980, x2: 637.3, y2: 980, c: '#111', w: 1.5 },
    { k: 't', s: 'Low vol PCI China', x: 637.3, y: 980, f: 12.5 },
    { k: 'l', x1: 622.7, y1: 1002.7, x2: 637.3, y2: 1002.7, c: RED, w: 1.5 },
    { k: 't', s: 'Aust hard coking coal + freight to China', x: 637.3, y: 1002.7, f: 12.5 },
    { k: 'l', x1: 622.7, y1: 1024.3, x2: 637.3, y2: 1024.3, c: '#a6a6a6', w: 2 },
    { k: 't', s: 'China met coal', x: 637.3, y: 1024.3, f: 12.5 },
    { k: 't', s: 'Sources: Westpac Economics, Bloomberg,', x: 590, y: 1163.3, f: 8.3, c: NOTE },
    { k: 't', s: 'Coalportal.com', x: 590, y: 1173.3, f: 8.3, c: NOTE }
  ]);
</script>
</body>
</html>
